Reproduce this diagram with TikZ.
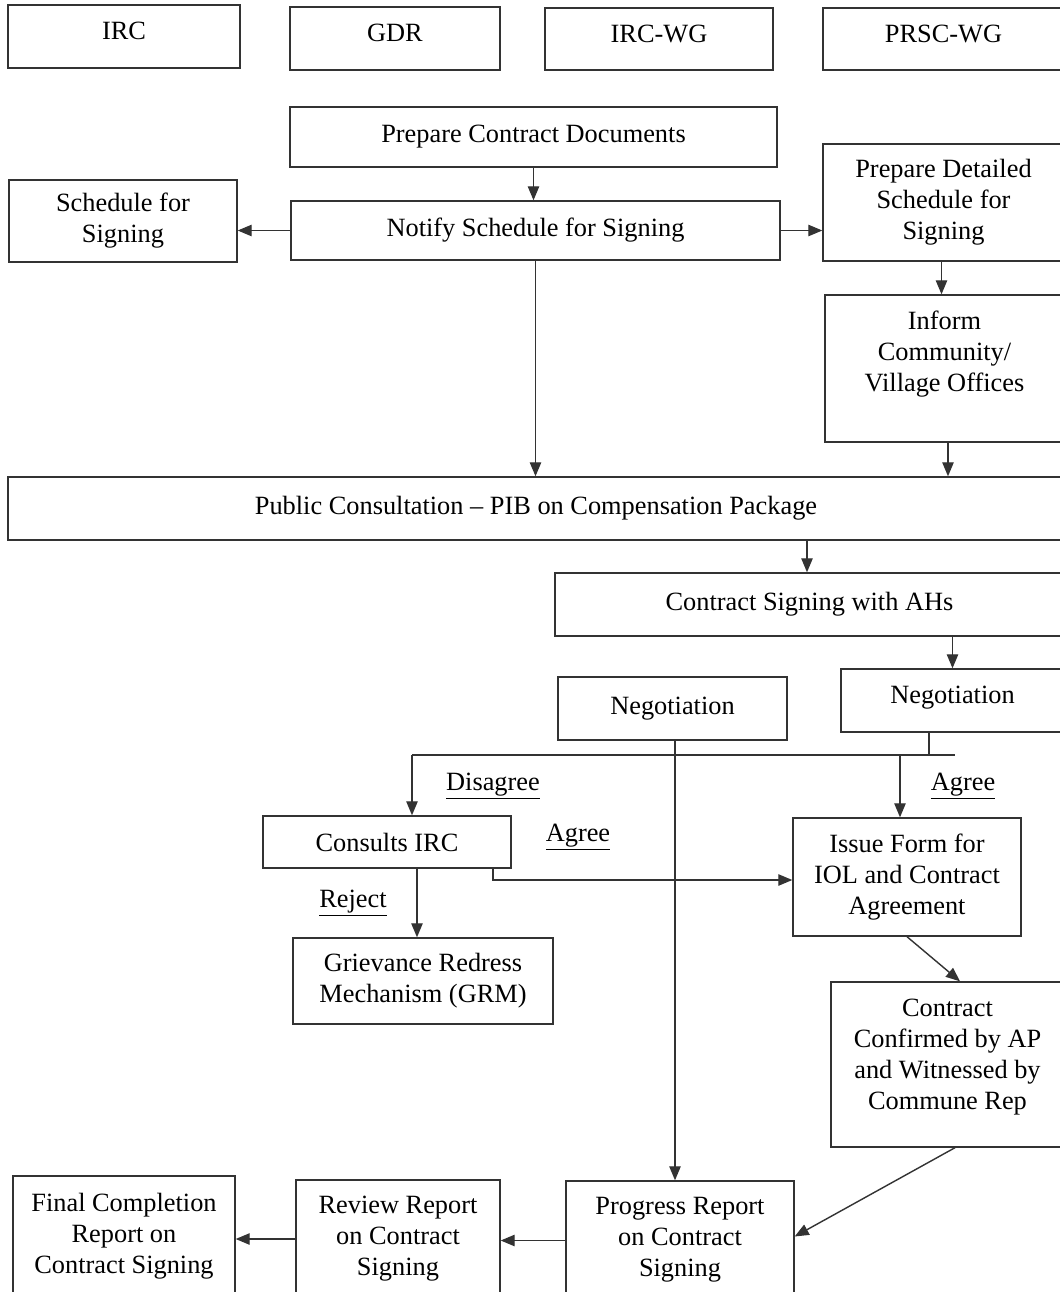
\documentclass[tikz,border=0pt]{standalone}
\usepackage{fontspec}
\setmainfont{Liberation Serif}
\usetikzlibrary{positioning,arrows.meta,calc}
\tikzset{
>={Triangle[length=8pt,width=6.5pt]},
  punkt/.style={
    rectangle,
    draw=black!80, line width=0.8pt,
    align=center,
    inner sep=2pt,
    font=\fontsize{15}{17.6}\selectfont},
  lbl/.style={font=\fontsize{15}{17.6}\selectfont},
  line/.style={draw=black!80, line width=0.8pt},
  pil/.style={->, draw=black!80, line width=0.8pt},
}

\begin{document}
\begin{tikzpicture}[x=0.02cm, y=-0.02cm]
    \useasboundingbox[fill=white] (0,0) rectangle (1060,1292);
    % header row
    \node[punkt, minimum width=4.64cm, minimum height=1.26cm] (irc)    at (124,36.5)  {IRC\\[-0.4cm]};
    \node[punkt, minimum width=4.2cm,  minimum height=1.26cm] (gdr)    at (395,38.5)  {GDR\\[-0.4cm]};
    \node[punkt, minimum width=4.56cm, minimum height=1.24cm] (ircwg)  at (659,39)    {IRC-WG\\[-0.4cm]};
    \node[punkt, minimum width=4.82cm, minimum height=1.24cm] (prscwg) at (943.5,39)  {PRSC-WG\\[-0.4cm]};
    % preparation
    \node[punkt, minimum width=9.74cm, minimum height=1.2cm]  (prep)   at (533.5,137) {Prepare Contract Documents};
    \node[punkt, minimum width=9.78cm, minimum height=1.18cm] (notify) at (535.5,230.5) {Notify Schedule for Signing};
    \node[punkt, minimum width=4.56cm, minimum height=1.64cm] (sched)  at (123,221)   {Schedule for\\Signing};
    \node[punkt, minimum width=4.82cm, minimum height=2.34cm] (detail) at (943.5,202.5) {Prepare Detailed\\Schedule for\\Signing};
    \node[punkt, minimum width=4.78cm, minimum height=2.94cm] (inform) at (944.5,368.5) {Inform\\Community/\\Village Offices\\[0.06cm]};
    \node[punkt, minimum width=21.12cm, minimum height=1.26cm] (public) at (536,508.5) {Public Consultation -- PIB on Compensation Package};
    \node[punkt, minimum width=10.18cm, minimum height=1.26cm] (csign) at (809.5,604.5) {Contract Signing with AHs};
    % negotiation
    \node[punkt, minimum width=4.58cm, minimum height=1.26cm] (negl)   at (672.5,708.5) {Negotiation};
    \node[punkt, minimum width=4.46cm, minimum height=1.26cm] (negr)   at (952.5,700.5) {Negotiation\\[-0.4cm]};
    \node[punkt, minimum width=4.96cm, minimum height=1.04cm] (consult) at (387,842)  {Consults IRC};
    \node[punkt, minimum width=4.56cm, minimum height=2.36cm] (issue)  at (907,877)   {Issue Form for\\IOL and Contract\\Agreement};
    \node[punkt, minimum width=5.2cm,  minimum height=1.72cm] (grm)    at (423,981)   {Grievance Redress\\Mechanism (GRM)};
    \node[punkt, minimum width=4.66cm, minimum height=3.3cm]  (confirm) at (947.5,1064.5) {Contract\\Confirmed by AP\\and Witnessed by\\Commune Rep\\[-0.22cm]};
    % reports
    \node[punkt, minimum width=4.44cm, minimum height=2.4cm]  (final)  at (124,1236)  {Final Completion\\Report on\\Contract Signing};
    \node[punkt, minimum width=4.08cm, minimum height=2.36cm] (review) at (398,1239)  {Review Report\\on Contract\\Signing};
    \node[punkt, minimum width=4.56cm, minimum height=2.34cm] (progress) at (680,1239.5) {Progress Report\\on Contract\\Signing};
    % labels
    \node[lbl] (ldis)  at (493,786) {\underline{Disagree}};
    \node[lbl] (lagr)  at (963,786) {\underline{Agree}};
    \node[lbl] (lagl)  at (578,837) {\underline{Agree}};
    \node[lbl] (lrej)  at (353,903) {\underline{Reject}};
    \coordinate (dl) at (412,755);
    \coordinate (dr) at (955,755);

    \draw[pil] (prep.south) -- (prep.south |- notify.north);
    \draw[pil] (notify.west) -- (notify.west -| sched.east);
    \draw[pil] (notify.east) -- (notify.east -| detail.west);
    \draw[pil] (notify.south) -- (notify.south |- public.north);
    \draw[pil] ([xshift=-0.04cm]detail.south) -- ([xshift=-0.04cm]detail.south |- inform.north);
    \draw[pil] ([xshift=0.07cm]inform.south) -- ([xshift=0.07cm]inform.south |- public.north);
    \draw[pil] ([xshift=-0.05cm]csign.north |- public.south) -- ([xshift=-0.05cm]csign.north);
    \draw[pil] (negr.north |- csign.south) -- (negr.north);
    \draw[line] ([xshift=-0.47cm]negr.south) -- ([xshift=-0.47cm]negr.south |- dr);
    \draw[line] (dl) -- (dr);
    \draw[pil] (dl) -- (dl |- consult.north);
    \draw[pil] ([xshift=-0.14cm]issue.north |- dr) -- ([xshift=-0.14cm]issue.north);
    \draw[pil] ([xshift=2.12cm]consult.south) |- ([yshift=-0.06cm]issue.west);
    \draw[pil] ([xshift=0.6cm]consult.south) -- ([xshift=0.6cm]consult.south |- grm.north);
    \draw[pil] ([xshift=0.05cm]negl.south) -- ([xshift=0.05cm]negl.south |- progress.north);
    \draw[pil] (issue.south) -- ([xshift=0.25cm]confirm.north);
    \draw[pil] ([xshift=0.15cm]confirm.south) -- ([yshift=0.06cm]progress.east);
    \draw[pil] ([yshift=-0.02cm]progress.west) -- ([yshift=-0.02cm]progress.west -| review.east);
    \draw[pil] (review.west) -- (review.west -| final.east);
\end{tikzpicture}
\end{document}
